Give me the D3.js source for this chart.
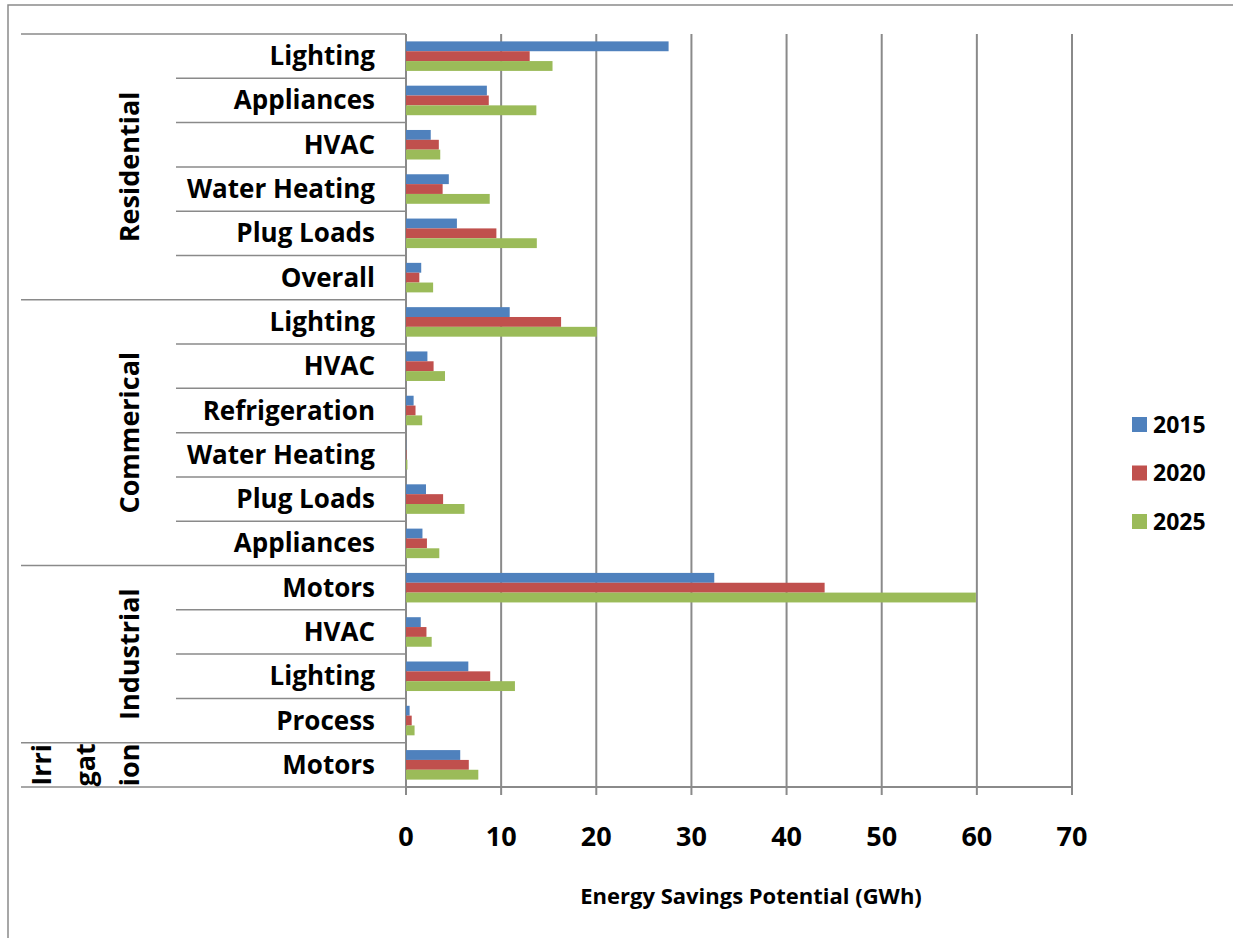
<!DOCTYPE html>
<html><head><meta charset="utf-8">
<script src="https://cdn.jsdelivr.net/npm/d3@7"></script>
<style>body{margin:0;background:#fff}svg{display:block}text{font-family:"Open Sans",sans-serif;font-weight:bold;fill:#000}</style>
</head><body><svg id="c" width="1233" height="938"></svg>
<script>
const groups = ["Residential","Commerical","Industrial","Irrigation"];
const groupSizes = [6,6,4,1];
const categories = ["Lighting","Appliances","HVAC","Water Heating","Plug Loads","Overall",
  "Lighting","HVAC","Refrigeration","Water Heating","Plug Loads","Appliances",
  "Motors","HVAC","Lighting","Process","Motors"];
const series = ["2015","2020","2025"];
const v2015 = [27.6,8.5,2.6,4.5,5.35,1.6, 10.9,2.25,0.8,0.02,2.1,1.73, 32.4,1.55,6.55,0.38,5.7];
const v2020 = [13.0,8.7,3.45,3.85,9.5,1.4, 16.3,2.9,1.0,0.05,3.9,2.2, 44.0,2.15,8.85,0.6,6.6];
const v2025 = [15.4,13.7,3.6,8.8,13.75,2.85, 20.05,4.1,1.7,0.15,6.15,3.5, 59.9,2.7,11.45,0.9,7.6];
const xTicks = [0,10,20,30,40,50,60,70];
const colors = ["#4F81BD","#C0504D","#9BBB59"];
const axisTitle = "Energy Savings Potential (GWh)";

const svg = d3.select("#c");
const L = 406, R = 1072, T = 34, B = 787;
const x = d3.scaleLinear().domain([0,70]).range([L,R]);
const y = d3.scaleBand().domain(d3.range(categories.length)).range([T,B]).padding(0);
const ys = d3.scaleBand().domain(series).range([0,y.bandwidth()]).paddingInner(0).paddingOuter(0.75);
const grid = "#8a8a8a";

// outer frame
svg.append("rect").attr("x",8).attr("y",5).attr("width",1400).attr("height",1100)
  .attr("fill","none").attr("stroke",grid).attr("stroke-width",1.5);

// gridlines + ticks
svg.selectAll(".g").data(xTicks).enter().append("line")
  .attr("x1",d=>x(d)).attr("x2",d=>x(d)).attr("y1",d=>d===0?B:T).attr("y2",B+8)
  .attr("stroke",grid).attr("stroke-width",2);
// x axis line
svg.append("line").attr("x1",L).attr("x2",R).attr("y1",B).attr("y2",B).attr("stroke",grid).attr("stroke-width",2);
// y axis line
svg.append("line").attr("x1",L).attr("x2",L).attr("y1",T).attr("y2",B).attr("stroke",grid).attr("stroke-width",2);

// category separators
const bounds = d3.range(categories.length+1);
const groupStarts = [0];
groupSizes.forEach((s,i)=>groupStarts.push(groupStarts[i]+s));
svg.selectAll(".sep").data(bounds).enter().append("line")
  .attr("x1",d=>groupStarts.includes(d)?21:176).attr("x2",L)
  .attr("y1",d=>d<categories.length?y(d):B).attr("y2",d=>d<categories.length?y(d):B)
  .attr("stroke",grid).attr("stroke-width",1.5);

// bars
const vals = [v2015,v2020,v2025];
series.forEach((s,si)=>{
  svg.append("g").selectAll("rect").data(vals[si]).enter().append("rect")
    .attr("x",x(0)).attr("y",(d,i)=>y(i)+ys(s)).attr("height",ys.bandwidth())
    .attr("width",d=>x(d)-x(0)).attr("fill",colors[si]);
});

// category labels
svg.selectAll(".cl").data(categories).enter().append("text")
  .attr("x",375).attr("y",(d,i)=>y(i)+y.bandwidth()/2+9)
  .attr("text-anchor","end").attr("font-size",26).text(d=>d);

// group labels
groups.forEach((g,gi)=>{
  const y0 = y(groupStarts[gi]);
  const y1 = groupStarts[gi+1]<categories.length? y(groupStarts[gi+1]) : B;
  const cy = (y0+y1)/2;
  if (g==="Irrigation") {
    const parts = ["Irri","gat","ion"];
    parts.forEach((p,pi)=>{
      svg.append("text").attr("transform",`translate(${51+pi*44},${cy}) rotate(-90)`)
        .attr("text-anchor","middle").attr("font-size",27).text(p);
    });
  } else {
    svg.append("text").attr("transform",`translate(139,${cy}) rotate(-90)`)
      .attr("text-anchor","middle").attr("font-size",27).text(g);
  }
});

// tick labels
svg.selectAll(".tl").data(xTicks).enter().append("text")
  .attr("x",d=>x(d)).attr("y",846).attr("text-anchor","middle").attr("font-size",27).text(d=>d);

// axis title
svg.append("text").attr("x",(L+R)/2+12).attr("y",904).attr("text-anchor","middle").attr("font-size",22).text(axisTitle);

// legend
series.forEach((s,si)=>{
  svg.append("rect").attr("x",1132).attr("y",417+si*48.5).attr("width",15).attr("height",15).attr("fill",colors[si]);
  svg.append("text").attr("x",1153).attr("y",432.5+si*48.5).attr("font-size",23).text(s);
});
</script></body></html>
